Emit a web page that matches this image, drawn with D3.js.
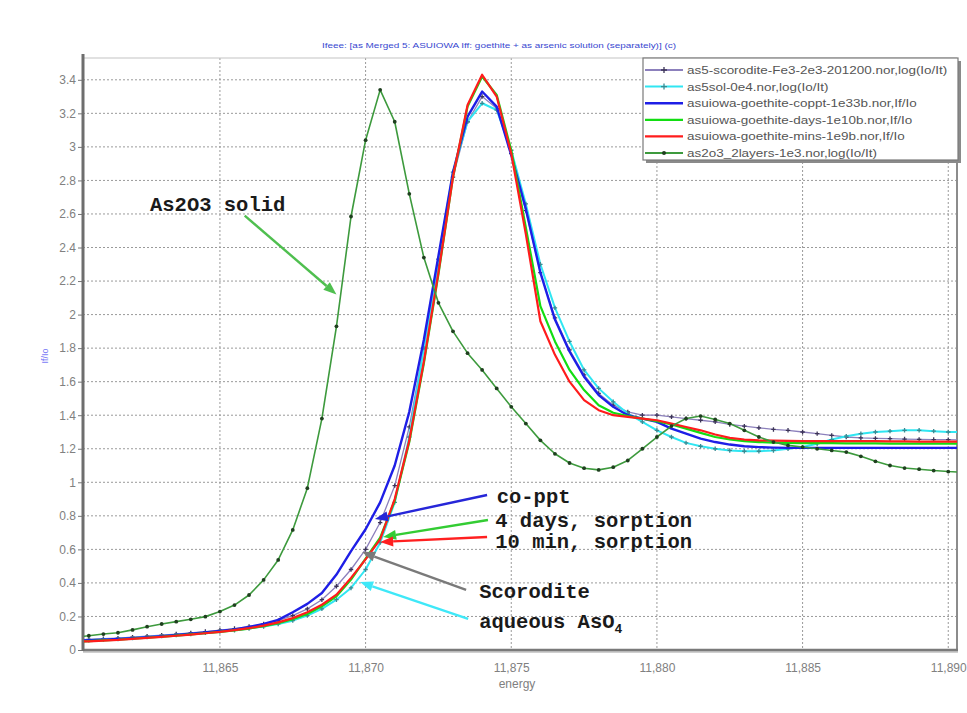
<!DOCTYPE html>
<html>
<head>
<meta charset="utf-8">
<script src="https://cdn.jsdelivr.net/npm/d3@7"></script>
<style>
  html, body { margin: 0; padding: 0; background: #fff; }
  body { width: 967px; height: 713px; overflow: hidden; }
  svg { display: block; }
  .grid line { stroke: #9a9a9a; stroke-dasharray: 2,2; }
  .tick-label { font-family: Arial, "Liberation Sans", sans-serif; font-size: 12px; fill: #808080; }
  .note { font-family: "Liberation Mono", "Courier New", monospace; font-weight: bold; font-size: 20.5px; fill: #1a1a1a; }
  .legend text { font-family: Arial, "Liberation Sans", sans-serif; font-size: 11.5px; fill: #555; }
</style>
</head>
<body>
<script>
const width = 967;
const height = 713;

// energy grid (eV), 0.5 eV steps
const energy = [
  11860, 11860.5, 11861, 11861.5, 11862, 11862.5, 11863, 11863.5, 11864, 11864.5,
  11865, 11865.5, 11866, 11866.5, 11867, 11867.5, 11868, 11868.5, 11869, 11869.5,
  11870, 11870.5, 11871, 11871.5, 11872, 11872.5, 11873, 11873.5, 11874, 11874.5,
  11875, 11875.5, 11876, 11876.5, 11877, 11877.5, 11878, 11878.5, 11879, 11879.5,
  11880, 11880.5, 11881, 11881.5, 11882, 11882.5, 11883, 11883.5, 11884, 11884.5,
  11885, 11885.5, 11886, 11886.5, 11887, 11887.5, 11888, 11888.5, 11889, 11889.5,
  11890, 11890.5
];

const scorodite = [
  0.060, 0.063, 0.067, 0.071, 0.076, 0.082, 0.088, 0.095, 0.102, 0.110,
  0.118, 0.128, 0.140, 0.155, 0.175, 0.205, 0.245, 0.300, 0.380, 0.480,
  0.60, 0.76, 0.98, 1.33, 1.80, 2.30, 2.82, 3.15, 3.30, 3.23,
  2.96, 2.62, 2.25, 1.98, 1.79, 1.64, 1.53, 1.46, 1.42, 1.40,
  1.40, 1.39, 1.38, 1.37, 1.36, 1.345, 1.335, 1.325, 1.315, 1.31,
  1.30, 1.29, 1.28, 1.27, 1.265, 1.262, 1.26, 1.258, 1.256, 1.255,
  1.254, 1.253
];

const aqueous = [
  0.055, 0.058, 0.062, 0.066, 0.071, 0.077, 0.083, 0.089, 0.095, 0.102,
  0.110, 0.118, 0.128, 0.140, 0.155, 0.175, 0.205, 0.245, 0.300, 0.370,
  0.48, 0.64, 0.88, 1.27, 1.80, 2.33, 2.85, 3.15, 3.26, 3.22,
  2.98, 2.66, 2.30, 2.04, 1.84, 1.67, 1.56, 1.48, 1.41, 1.36,
  1.31, 1.27, 1.235, 1.215, 1.20, 1.19, 1.185, 1.185, 1.19, 1.20,
  1.21, 1.23, 1.255, 1.275, 1.29, 1.30, 1.305, 1.31, 1.31, 1.305,
  1.30, 1.30
];

const coppt = [
  0.055, 0.058, 0.062, 0.066, 0.071, 0.077, 0.083, 0.090, 0.097, 0.105,
  0.113, 0.123, 0.137, 0.155, 0.180, 0.225, 0.275, 0.340, 0.450, 0.590,
  0.72, 0.88, 1.10, 1.42, 1.85, 2.35, 2.85, 3.18, 3.33, 3.24,
  2.95, 2.63, 2.25, 1.97, 1.78, 1.63, 1.52, 1.45, 1.40, 1.38,
  1.36, 1.32, 1.29, 1.26, 1.24, 1.225, 1.215, 1.21, 1.207, 1.205,
  1.205, 1.205, 1.205, 1.205, 1.205, 1.205, 1.205, 1.205, 1.205, 1.205,
  1.205, 1.205
];

const days = [
  0.050, 0.053, 0.057, 0.061, 0.067, 0.073, 0.079, 0.086, 0.093, 0.100,
  0.108, 0.117, 0.128, 0.142, 0.160, 0.183, 0.215, 0.260, 0.320, 0.420,
  0.545, 0.67, 0.89, 1.24, 1.71, 2.24, 2.82, 3.24, 3.42, 3.31,
  2.98, 2.52, 2.05, 1.84, 1.67, 1.55, 1.46, 1.415, 1.395, 1.38,
  1.365, 1.345, 1.32, 1.295, 1.27, 1.255, 1.245, 1.24, 1.237, 1.235,
  1.234, 1.233, 1.233, 1.232, 1.232, 1.232, 1.231, 1.231, 1.231, 1.230,
  1.230, 1.230
];

const mins = [
  0.050, 0.052, 0.056, 0.060, 0.066, 0.072, 0.078, 0.085, 0.092, 0.100,
  0.108, 0.118, 0.130, 0.145, 0.165, 0.190, 0.225, 0.270, 0.330, 0.430,
  0.540, 0.66, 0.90, 1.25, 1.72, 2.25, 2.82, 3.25, 3.43, 3.30,
  2.96, 2.48, 1.96, 1.76, 1.60, 1.49, 1.43, 1.40, 1.39, 1.38,
  1.37, 1.35, 1.33, 1.31, 1.285, 1.265, 1.255, 1.25, 1.248, 1.247,
  1.246, 1.246, 1.245, 1.245, 1.245, 1.245, 1.244, 1.244, 1.243, 1.243,
  1.243, 1.243
];

const as2o3 = [
  0.075, 0.085, 0.095, 0.103, 0.120, 0.139, 0.155, 0.169, 0.183, 0.199,
  0.229, 0.268, 0.328, 0.418, 0.537, 0.716, 0.965, 1.38, 1.93, 2.585,
  3.04, 3.34, 3.15, 2.72, 2.34, 2.07, 1.90, 1.77, 1.67, 1.56,
  1.45, 1.35, 1.25, 1.17, 1.115, 1.084, 1.074, 1.09, 1.13, 1.20,
  1.27, 1.335, 1.38, 1.395, 1.375, 1.35, 1.31, 1.27, 1.24, 1.22,
  1.21, 1.20, 1.19, 1.18, 1.155, 1.125, 1.10, 1.085, 1.078, 1.07,
  1.064, 1.06
];

const legendNames = [
  "as5-scorodite-Fe3-2e3-201200.nor,log(Io/It)",
  "as5sol-0e4.nor,log(Io/It)",
  "asuiowa-goethite-coppt-1e33b.nor,If/Io",
  "asuiowa-goethite-days-1e10b.nor,If/Io",
  "asuiowa-goethite-mins-1e9b.nor,If/Io",
  "as2o3_2layers-1e3.nor,log(Io/It)"
];

const xTicks = [11865, 11870, 11875, 11880, 11885, 11890];
const yTicks = [0, 0.2, 0.4, 0.6, 0.8, 1, 1.2, 1.4, 1.6, 1.8, 2, 2.2, 2.4, 2.6, 2.8, 3, 3.2, 3.4];

// annotation labels: text anchor (energy, value) and arrow from -> tip
const noteTexts = ["As2O3 solid", "co-ppt", "4 days, sorption", "10 min, sorption", "Scorodite", "aqueous AsO"];
const noteAt = [[11862.6, 2.62], [11874.5, 0.875], [11874.45, 0.733], [11874.45, 0.608], [11873.9, 0.31], [11873.9, 0.13]];
const arrowFrom = [[11865.85, 2.59], [11874.17, 0.924], [11874.2, 0.775], [11874.17, 0.674], [11873.45, 0.358], [11873.52, 0.185]];
const arrowTip = [[11869.0, 2.12], [11870.32, 0.781], [11870.6, 0.674], [11870.5, 0.644], [11869.88, 0.584], [11869.81, 0.405]];
const arrowColors = ["#4fbf4f", "#2626d8", "#33cc33", "#ff2020", "#7a7a7a", "#3fe8f8"];

const series = [
  { name: legendNames[0], values: scorodite, color: "#8c80bc", width: 1.3, marker: "plus", markColor: "#3c3458" },
  { name: legendNames[1], values: aqueous, color: "#30e6f2", width: 2, marker: "plus", markColor: "#3a8a92" },
  { name: legendNames[2], values: coppt, color: "#1e1ee6", width: 2.4, marker: null },
  { name: legendNames[3], values: days, color: "#12dd12", width: 2.2, marker: null },
  { name: legendNames[4], values: mins, color: "#ff1c1c", width: 2.2, marker: null },
  { name: legendNames[5], values: as2o3, color: "#3d9a3d", width: 1.6, marker: "dot", markColor: "#1f3f1f" }
];

const margin = { left: 83, right: 10, top: 58, bottom: 63 };

function setupChart() {
  const svg = d3.create("svg")
    .attr("width", width)
    .attr("height", height)
    .attr("viewBox", [0, 0, width, height]);

  const x = d3.scaleLinear()
    .domain([11860.3, 11890.3])
    .range([margin.left, width - margin.right]);
  const y = d3.scaleLinear()
    .domain([0, 3.53])
    .range([height - margin.bottom, margin.top]);

  const x0 = margin.left, x1 = width - margin.right;
  const y0 = margin.top, y1 = height - margin.bottom;

  // title
  svg.append("text")
    .attr("x", 499).attr("y", 48)
    .attr("text-anchor", "middle")
    .attr("textLength", 354)
    .attr("lengthAdjust", "spacingAndGlyphs")
    .style("font-family", "Arial, sans-serif")
    .style("font-size", "8px")
    .style("fill", "#3848d0")
    .text("Ifeee:  [as Merged 5: ASUIOWA Iff:  goethite + as arsenic solution (separately)] (c)");

  // grid
  const grid = svg.append("g").attr("class", "grid");
  grid.selectAll(".gy")
    .data(yTicks.filter(d => d > 0))
    .join("line")
    .attr("x1", x0).attr("x2", x1)
    .attr("y1", d => y(d)).attr("y2", d => y(d));
  grid.selectAll(".gx")
    .data(xTicks)
    .join("line")
    .attr("x1", d => x(d)).attr("x2", d => x(d))
    .attr("y1", y0).attr("y2", y1);

  // frame
  svg.append("line").attr("x1", x0).attr("x2", x1).attr("y1", y0).attr("y2", y0)
    .attr("stroke", "#c4c4c4").attr("stroke-width", 1.2);
  svg.append("line").attr("x1", x1).attr("x2", x1).attr("y1", y0).attr("y2", y1 + 1)
    .attr("stroke", "#8c8c8c").attr("stroke-width", 2);

  // y axis
  const yAxis = d3.axisLeft(y)
    .tickValues(yTicks)
    .tickSize(4)
    .tickPadding(2)
    .tickFormat(d => String(+d.toFixed(1)));
  const gy = svg.append("g").attr("transform", `translate(${x0 - 1},0)`).call(yAxis);
  gy.select(".domain").remove();
  gy.selectAll(".tick line").attr("stroke", "#777");
  gy.selectAll(".tick text").attr("class", "tick-label").attr("fill", null);

  // x axis
  const xAxis = d3.axisBottom(x)
    .tickValues(xTicks)
    .tickSize(0)
    .tickPadding(13)
    .tickFormat(d3.format(","));
  const gx = svg.append("g").attr("transform", `translate(0,${y1})`).call(xAxis);
  gx.select(".domain").remove();
  gx.selectAll(".tick text").attr("class", "tick-label").attr("fill", null);

  // axis lines (thick, shadowed)
  svg.append("line").attr("x1", x0).attr("x2", x1 + 1).attr("y1", y1 + 2).attr("y2", y1 + 2)
    .attr("stroke", "#cfcfcf").attr("stroke-width", 2);
  svg.append("line").attr("x1", x0).attr("x2", x1 + 1).attr("y1", y1).attr("y2", y1)
    .attr("stroke", "#7a7a7a").attr("stroke-width", 2.5);
  svg.append("line").attr("x1", x0).attr("x2", x0).attr("y1", y0 - 4).attr("y2", y1 + 1)
    .attr("stroke", "#6e6e6e").attr("stroke-width", 3);

  // axis titles
  svg.append("text")
    .attr("x", 517).attr("y", 688)
    .attr("text-anchor", "middle")
    .attr("class", "tick-label")
    .text("energy");
  svg.append("text")
    .attr("transform", "translate(48,356) rotate(-90)")
    .attr("text-anchor", "middle")
    .style("font-family", "Arial, sans-serif")
    .style("font-size", "9px")
    .style("fill", "#6f6ff5")
    .text("If/Io");

  // curves
  svg.append("clipPath").attr("id", "plot-clip")
    .append("rect").attr("x", x0 + 1).attr("y", y0).attr("width", x1 - x0 - 1).attr("height", y1 - y0);

  const plot = svg.append("g").attr("clip-path", "url(#plot-clip)");
  const line = d3.line()
    .x((d, i) => x(energy[i]))
    .y(d => y(d));

  series.forEach(s => {
    plot.append("path")
      .datum(s.values)
      .attr("fill", "none")
      .attr("stroke", s.color)
      .attr("stroke-width", s.width)
      .attr("stroke-linejoin", "round")
      .attr("d", line);

    if (s.marker === "plus") {
      plot.append("g")
        .selectAll("path")
        .data(s.values)
        .join("path")
        .attr("d", (d, i) => {
          const px = x(energy[i]), py = y(d);
          return `M${px - 2.2},${py}H${px + 2.2}M${px},${py - 2.2}V${py + 2.2}`;
        })
        .attr("stroke", s.markColor)
        .attr("stroke-width", 1.3);
    } else if (s.marker === "dot") {
      plot.append("g")
        .selectAll("circle")
        .data(s.values)
        .join("circle")
        .attr("cx", (d, i) => x(energy[i]))
        .attr("cy", d => y(d))
        .attr("r", 1.9)
        .attr("fill", s.markColor);
    }
  });

  // annotations
  const notes = svg.append("g");
  noteTexts.forEach((t, i) => {
    const [fx, fy] = [x(arrowFrom[i][0]), y(arrowFrom[i][1])];
    const [tx, ty] = [x(arrowTip[i][0]), y(arrowTip[i][1])];
    const ang = Math.atan2(ty - fy, tx - fx);
    const len = 13, half = 5;
    const bx = tx - len * Math.cos(ang), by = ty - len * Math.sin(ang);
    notes.append("line")
      .attr("x1", fx).attr("y1", fy).attr("x2", bx).attr("y2", by)
      .attr("stroke", arrowColors[i]).attr("stroke-width", 2.4);
    notes.append("path")
      .attr("d", `M${tx},${ty}L${bx + half * Math.sin(ang)},${by - half * Math.cos(ang)}L${bx - half * Math.sin(ang)},${by + half * Math.cos(ang)}Z`)
      .attr("fill", arrowColors[i]);

    const label = notes.append("text")
      .attr("class", "note")
      .attr("x", x(noteAt[i][0]))
      .attr("y", y(noteAt[i][1]))
      .text(t);
    if (t === "aqueous AsO") {
      label.append("tspan")
        .attr("dy", 5)
        .style("font-size", "13px")
        .text("4");
    }
  });

  // legend
  const lg = svg.append("g").attr("class", "legend");
  const lx = 643, ly = 58, lw = 315, lh = 102;
  lg.append("rect").attr("x", lx + 3).attr("y", ly + 3).attr("width", lw).attr("height", lh)
    .attr("fill", "#8a8a8a");
  lg.append("rect").attr("x", lx).attr("y", ly).attr("width", lw).attr("height", lh)
    .attr("fill", "#fff").attr("stroke", "#7a7a7a").attr("stroke-width", 1.2);

  const rows = lg.selectAll(".row")
    .data(series)
    .join("g")
    .attr("class", "row")
    .attr("transform", (d, i) => `translate(${lx + 2},${ly + 12 + i * 16.6})`);
  rows.append("line")
    .attr("x1", 0).attr("x2", 38)
    .attr("stroke", d => d.color)
    .attr("stroke-width", d => Math.max(2, d.width));
  rows.filter(d => d.marker === "plus")
    .append("path")
    .attr("d", "M16,0H22M19,-3V3")
    .attr("stroke", d => d.markColor)
    .attr("stroke-width", 1.3);
  rows.filter(d => d.marker === "dot")
    .append("circle")
    .attr("cx", 19).attr("r", 2)
    .attr("fill", d => d.markColor);
  rows.append("text")
    .attr("x", 42)
    .attr("dy", "0.35em")
    .text(d => d.name);

  return svg;
}

const chart = setupChart();
document.body.appendChild(chart.node());

// the legend font in the picture is wider than Arial: stretch each label a bit
chart.selectAll(".legend text").each(function () {
  const w = this.getComputedTextLength();
  d3.select(this).attr("textLength", w * 1.17).attr("lengthAdjust", "spacingAndGlyphs");
});
</script>
</body>
</html>
